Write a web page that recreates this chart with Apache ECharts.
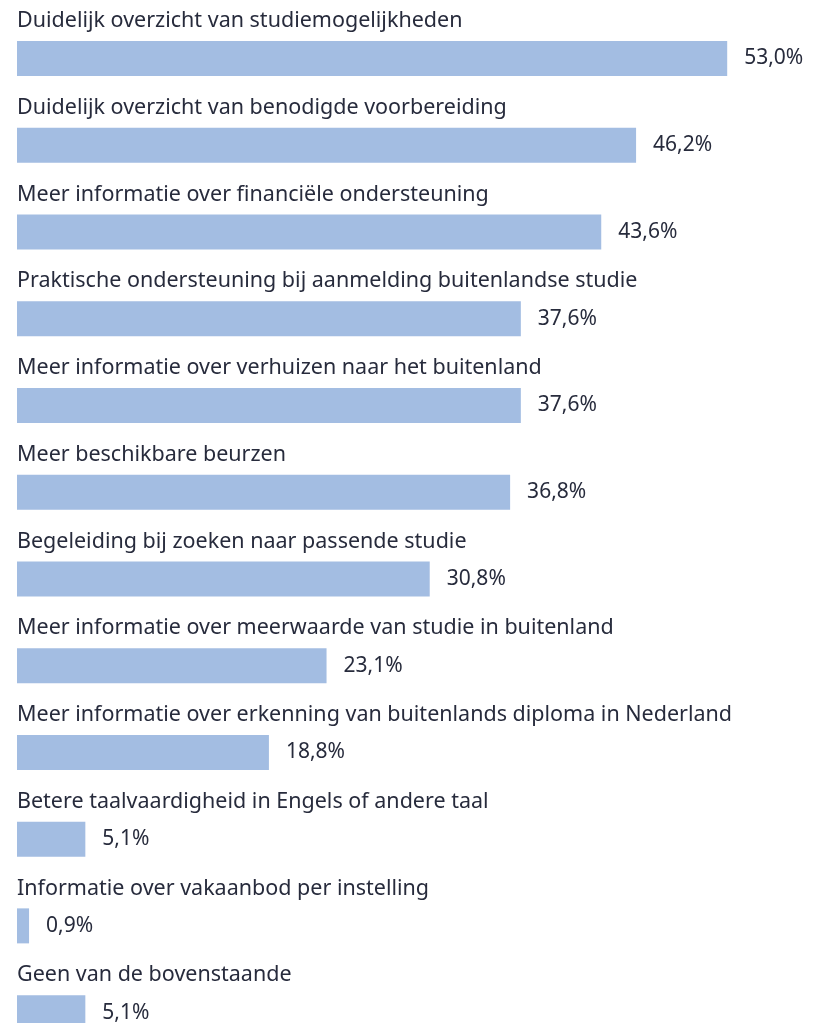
<!DOCTYPE html>
<html>
<head>
<meta charset="utf-8">
<script src="https://cdn.jsdelivr.net/npm/echarts@6/dist/echarts.min.js"></script>
<style>
html,body{margin:0;padding:0;background:#fff;overflow:hidden;}
#chart{width:822px;height:1056px;}
</style>
</head>
<body>
<div id="chart"></div>
<script>
const categories = [
  "Duidelijk overzicht van studiemogelijkheden",
  "Duidelijk overzicht van benodigde voorbereiding",
  "Meer informatie over financiële ondersteuning",
  "Praktische ondersteuning bij aanmelding buitenlandse studie",
  "Meer informatie over verhuizen naar het buitenland",
  "Meer beschikbare beurzen",
  "Begeleiding bij zoeken naar passende studie",
  "Meer informatie over meerwaarde van studie in buitenland",
  "Meer informatie over erkenning van buitenlands diploma in Nederland",
  "Betere taalvaardigheid in Engels of andere taal",
  "Informatie over vakaanbod per instelling",
  "Geen van de bovenstaande"
];
const values = [53.0, 46.2, 43.6, 37.6, 37.6, 36.8, 30.8, 23.1, 18.8, 5.1, 0.9, 5.1];

const FONT = "Noto Sans";
const TEXT = "#272b3c";
const fmt = v => v.toFixed(1).replace('.', ',') + '%';

const chart = echarts.init(document.getElementById('chart'), null, {renderer: 'canvas'});
chart.setOption({
  animation: false,
  grid: {left: 17, top: 15, right: 1, bottom: 0, containLabel: false},
  xAxis: {type: 'value', min: 0, max: 60, show: false},
  yAxis: {type: 'category', data: categories, inverse: true, show: false},
  series: [
    {
      type: 'bar',
      data: values,
      barWidth: 35,
      itemStyle: {color: '#a3bde2'},
      label: {
        show: true, position: 'right', distance: 17,
        formatter: p => fmt(p.value),
        fontFamily: FONT, fontSize: 21, color: TEXT
      },
      z: 2
    },
    {
      type: 'bar',
      data: values,
      barWidth: 35,
      barGap: '-100%',
      silent: true,
      itemStyle: {color: 'rgba(0,0,0,0)'},
      label: {
        show: true, position: [0, -20], align: 'left', verticalAlign: 'middle',
        formatter: p => p.name,
        fontFamily: FONT, fontSize: 21.5, color: TEXT
      },
      z: 3
    }
  ]
});
</script>
</body>
</html>
